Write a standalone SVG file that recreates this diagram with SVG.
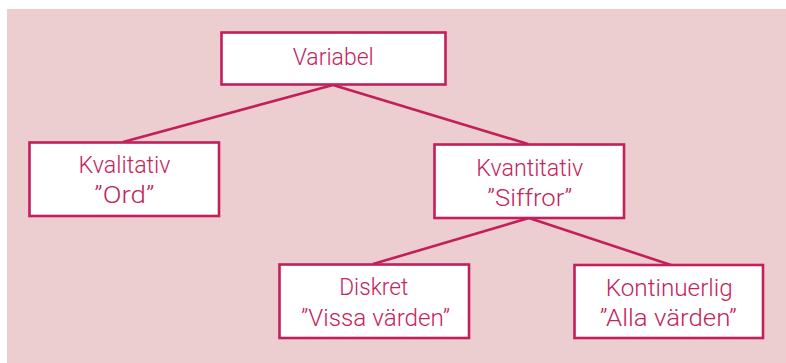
<svg xmlns="http://www.w3.org/2000/svg" width="786" height="363" viewBox="0 0 786 363">
  <style>
    .box { fill: #ffffff; stroke: #c21f5b; stroke-width: 2.6; }
    .link { stroke: #c21f5b; stroke-width: 2.6; fill: none; }
    .label { font-family: Roboto, "Liberation Sans", sans-serif; font-weight: 300; font-size: 24px; fill: #c3245e; text-anchor: middle; }
  </style>
  <rect x="0" y="0" width="786" height="363" fill="#ffffff"/>
  <rect x="7" y="9" width="779" height="354" fill="#eccdd0"/>

  <g id="connectors">
    <line class="link" x1="333" y1="85" x2="123" y2="142"/>
    <line class="link" x1="333" y1="85" x2="528" y2="144"/>
    <line class="link" x1="529" y1="218" x2="373" y2="264"/>
    <line class="link" x1="529" y1="218" x2="671" y2="265"/>
  </g>

  <g id="variabel">
    <rect class="box" x="221.5" y="32.5" width="224" height="52"/>
    <text class="label" x="333.2" y="64.5" textLength="81" lengthAdjust="spacingAndGlyphs">Variabel</text>
  </g>

  <g id="kvalitativ">
    <rect class="box" x="29.5" y="142.5" width="189.5" height="73.5"/>
    <text class="label" x="124.5" y="172.5" textLength="92" lengthAdjust="spacingAndGlyphs">Kvalitativ</text>
    <text class="label" x="124.3" y="203" textLength="60" lengthAdjust="spacingAndGlyphs">”Ord”</text>
  </g>

  <g id="kvantitativ">
    <rect class="box" x="434.5" y="144.5" width="189.5" height="73.5"/>
    <text class="label" x="529.7" y="176" textLength="107" lengthAdjust="spacingAndGlyphs">Kvantitativ</text>
    <text class="label" x="529.8" y="206" textLength="85" lengthAdjust="spacingAndGlyphs">”Siffror”</text>
  </g>

  <g id="diskret">
    <rect class="box" x="279.5" y="264.5" width="189.5" height="73.5"/>
    <text class="label" x="373.7" y="295" textLength="69" lengthAdjust="spacingAndGlyphs">Diskret</text>
    <text class="label" x="375.5" y="325.5" textLength="149" lengthAdjust="spacingAndGlyphs">”Vissa värden”</text>
  </g>

  <g id="kontinuerlig">
    <rect class="box" x="574.5" y="265" width="188.5" height="73"/>
    <text class="label" x="669.2" y="295.5" textLength="127" lengthAdjust="spacingAndGlyphs">Kontinuerlig</text>
    <text class="label" x="668.3" y="325.5" textLength="137" lengthAdjust="spacingAndGlyphs">”Alla värden”</text>
  </g>
</svg>
